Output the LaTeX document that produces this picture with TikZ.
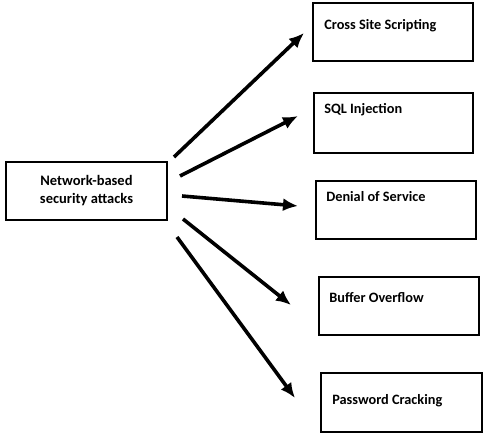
\documentclass[tikz,border=0pt]{standalone}
\usepackage{fontspec}
\setmainfont{Carlito}
\usetikzlibrary{arrows.meta,positioning,calc}

\begin{document}
\begin{tikzpicture}[
    x=1pt, y=-1pt,
    >={Latex[length=15pt,width=13pt]},
    attack/.style={draw=black, line width=1.8pt, minimum width=160pt, minimum height=58pt},
    source/.style={draw=black, line width=1.8pt, minimum width=161pt, minimum height=58pt, align=center, font=\bfseries\fontsize{14.5}{18}\selectfont},
    title/.style={anchor=base west, inner sep=0pt, font=\bfseries\fontsize{14.3}{16}\selectfont},
    link/.style={->, line width=3.6pt}
]
\useasboundingbox (0,0) rectangle (483,434);

\node[source] (net) at (86.5,191) {Network-based\\security attacks};

\node[attack] (xss) at (393,32) {};
\node[attack, minimum width=159pt, minimum height=60pt] (sqli) at (393.5,123) {};
\node[attack] (dos) at (396,210) {};
\node[attack] (bof) at (399,306) {};
\node[attack, minimum width=161pt, minimum height=59pt] (pwd) at (401.5,402.5) {};

\node[title] (xss-t) at ($(xss.north west)+(12,27)$) {Cross Site Scripting};
\node[title] (sqli-t) at ($(sqli.north west)+(11,21)$) {SQL Injection};
\node[title] (dos-t) at ($(dos.north west)+(11,21)$) {Denial of Service};
\node[title] (bof-t) at ($(bof.north west)+(11,26)$) {Buffer Overflow};
\node[title] (pwd-t) at ($(pwd.north west)+(12,32)$) {Password Cracking};

% free arrow ends (the arrows do not touch the boxes)
\coordinate (net-xss) at (174,157);
\coordinate (net-sqli) at (180,176);
\coordinate (net-dos) at (182,196);
\coordinate (net-bof) at (183,219);
\coordinate (net-pwd) at (177,237);
\coordinate (xss-in) at (304,33);
\coordinate (sqli-in) at (298,116);
\coordinate (dos-in) at (298,206);
\coordinate (bof-in) at (291,305);
\coordinate (pwd-in) at (295,398);

\draw[link] (net-xss) -- (xss-in);
\draw[link] (net-sqli) -- (sqli-in);
\draw[link] (net-dos) -- (dos-in);
\draw[link] (net-bof) -- (bof-in);
\draw[link] (net-pwd) -- (pwd-in);
\end{tikzpicture}
\end{document}
